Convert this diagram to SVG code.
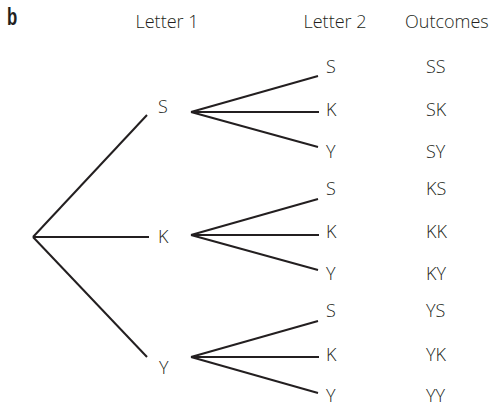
<svg xmlns="http://www.w3.org/2000/svg" width="493" height="406" viewBox="0 0 493 406">
<style>
text{font-family:"Open Sans","Noto Sans","Liberation Sans",sans-serif;font-size:18px;font-weight:300;fill:#231f20}
.b{font-family:"Liberation Sans","Arial",sans-serif;font-weight:bold;font-size:24px}
.c line{stroke:#231f20;stroke-width:2;stroke-linecap:butt}
</style>
<rect width="493" height="406" fill="#fff"/>
<g id="headers">
<text class="b" transform="translate(7,25) scale(0.7,1)">b</text>
<text x="135.5" y="28">Letter 1</text>
<text x="303.5" y="28">Letter 2</text>
<text x="405" y="28">Outcomes</text>
</g>
<g class="c" id="connectors">
<line x1="33" y1="237" x2="147" y2="115"/>
<line x1="33" y1="237" x2="149" y2="237"/>
<line x1="33" y1="237" x2="147" y2="357"/>
<line x1="191" y1="112" x2="318" y2="76"/>
<line x1="191" y1="112" x2="319" y2="112"/>
<line x1="191" y1="112" x2="318" y2="147"/>
<line x1="191" y1="235" x2="318" y2="199"/>
<line x1="191" y1="235" x2="319" y2="235"/>
<line x1="191" y1="235" x2="318" y2="270"/>
<line x1="191" y1="357" x2="318" y2="321"/>
<line x1="191" y1="357" x2="319" y2="357"/>
<line x1="191" y1="357" x2="318" y2="393"/>
</g>
<g id="l1-S"><text x="158" y="113">S</text></g>
<g id="l1-K"><text x="158" y="243">K</text></g>
<g id="l1-Y"><text x="159" y="374">Y</text></g>
<g id="l2-SS"><text x="326" y="73">S</text><text x="426" y="73">SS</text></g>
<g id="l2-SK"><text x="326" y="116">K</text><text x="426" y="116">SK</text></g>
<g id="l2-SY"><text x="326" y="158">Y</text><text x="426" y="158">SY</text></g>
<g id="l2-KS"><text x="326" y="195">S</text><text x="426" y="195">KS</text></g>
<g id="l2-KK"><text x="326" y="238">K</text><text x="426" y="238">KK</text></g>
<g id="l2-KY"><text x="326" y="280">Y</text><text x="426" y="280">KY</text></g>
<g id="l2-YS"><text x="326" y="317">S</text><text x="426" y="317">YS</text></g>
<g id="l2-YK"><text x="326" y="361">K</text><text x="426" y="361">YK</text></g>
<g id="l2-YY"><text x="326" y="402">Y</text><text x="426" y="402">YY</text></g>
</svg>
